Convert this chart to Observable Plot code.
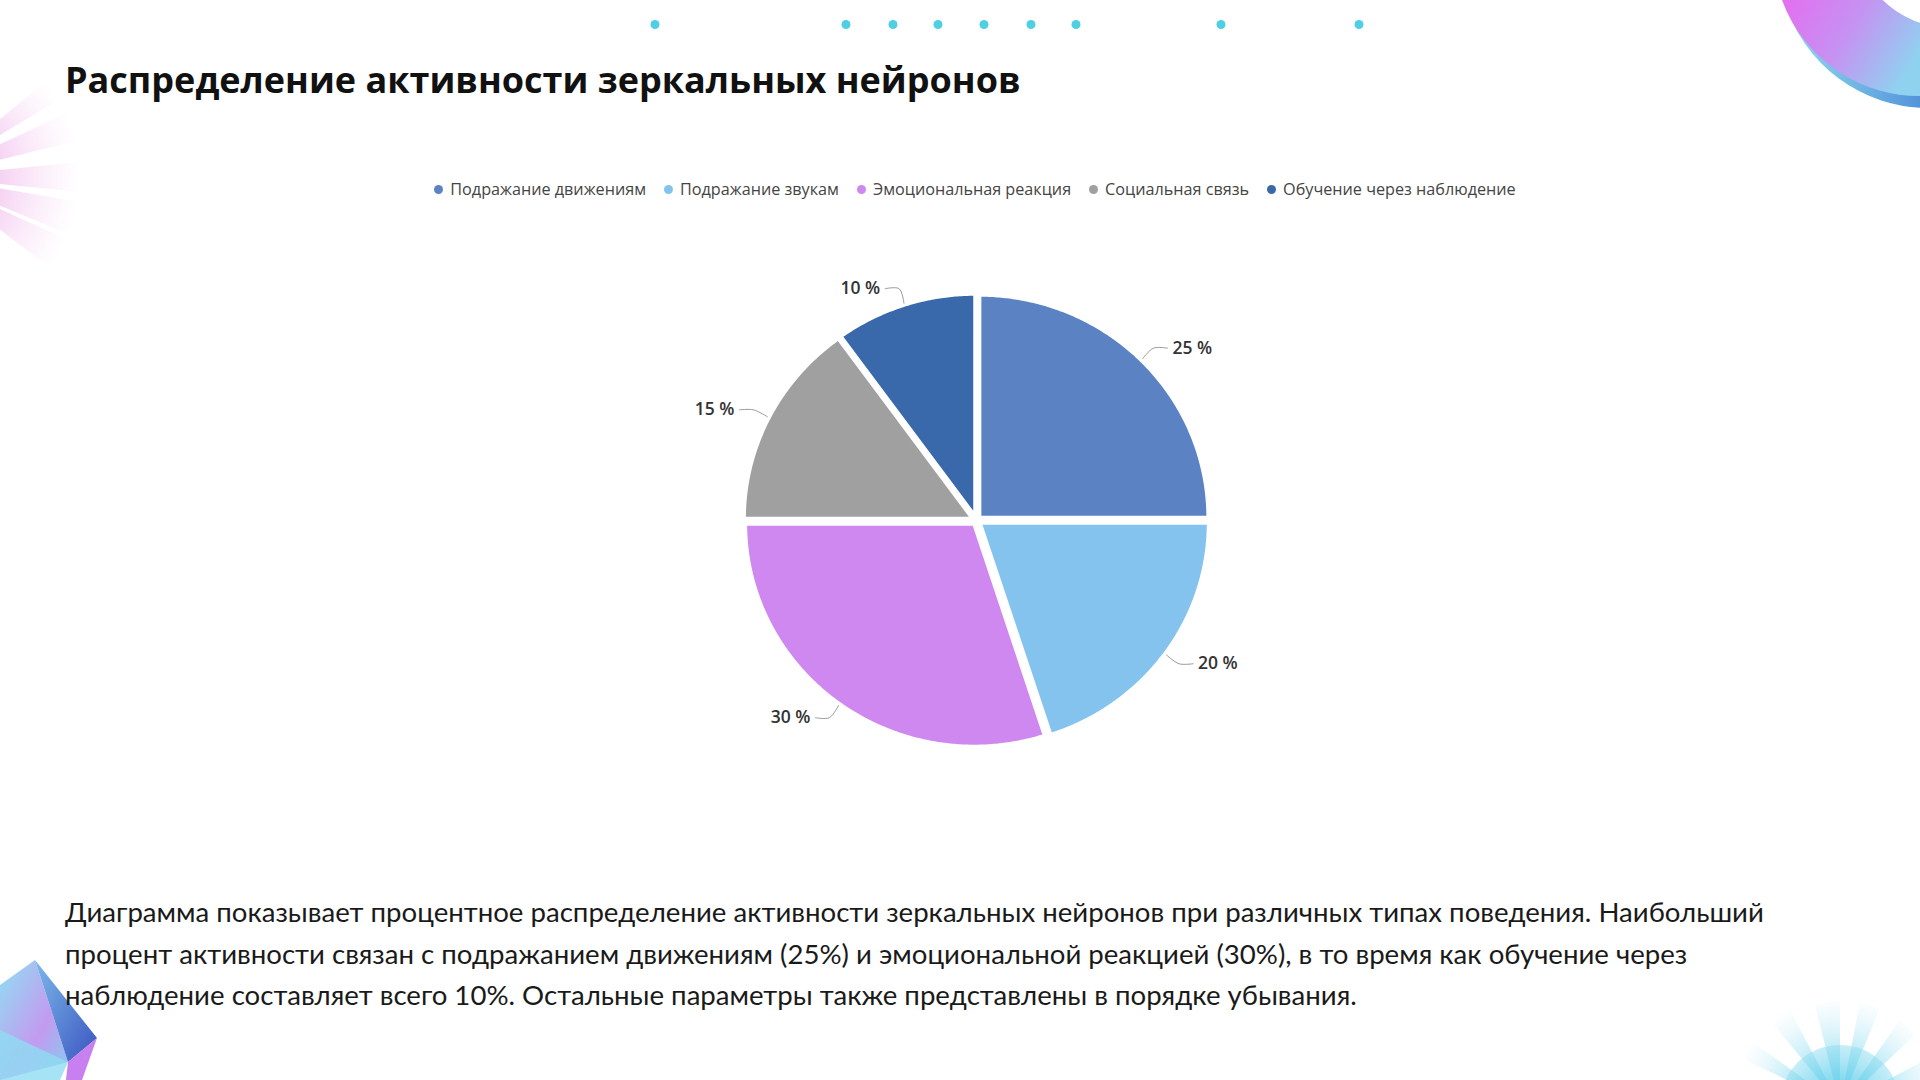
<!DOCTYPE html>
<html><head><meta charset="utf-8">
<script src="https://cdn.jsdelivr.net/npm/d3@7"></script>
<script src="https://cdn.jsdelivr.net/npm/@observablehq/plot@0.6"></script>
<style>
html,body{margin:0;padding:0;background:#fff;}
#page{position:relative;width:1920px;height:1080px;overflow:hidden;background:#fff;}
#deco{position:absolute;left:0;top:0;}
#title{position:absolute;left:65px;top:55px;font-family:"Open Sans",sans-serif;font-weight:700;font-size:36px;color:#111;white-space:nowrap;line-height:50px;}
#legend{position:absolute;top:177px;left:0;width:1950px;display:flex;justify-content:center;gap:18px;font-family:"Open Sans",sans-serif;font-size:16.2px;color:#444;line-height:24px;}
#legend .item{display:flex;align-items:center;white-space:nowrap;}
#legend .dot{width:9px;height:9px;border-radius:50%;margin-right:7px;}
#chart{position:absolute;left:626px;top:220px;}
#body{position:absolute;left:65px;top:891px;font-family:Lato,sans-serif;font-size:27.6px;line-height:41.6px;color:#1a1a1a;}
#body div{white-space:nowrap;}
</style></head>
<body><div id="page">
<svg id="deco" width="1920" height="1080">
  <defs>
    <linearGradient id="ringG" x1="0" y1="0" x2="1" y2="0.4">
      <stop offset="0" stop-color="#e46ef0"/><stop offset="0.5" stop-color="#c592f2"/><stop offset="1" stop-color="#8fd2f0"/>
    </linearGradient>
    <linearGradient id="ringB" x1="0" y1="0" x2="1" y2="0">
      <stop offset="0" stop-color="#8fdcf0"/><stop offset="1" stop-color="#4f8fd8"/>
    </linearGradient>
    <radialGradient id="pinkR" cx="-70" cy="177" r="150" gradientUnits="userSpaceOnUse">
      <stop offset="0.35" stop-color="#eeb0ea" stop-opacity="0.75"/><stop offset="1" stop-color="#f6d0f2" stop-opacity="0"/>
    </radialGradient>
    <radialGradient id="cyanR" cx="1840" cy="1105" r="110" gradientUnits="userSpaceOnUse">
      <stop offset="0.2" stop-color="#6fd3ec" stop-opacity="0.9"/><stop offset="1" stop-color="#bfeaf6" stop-opacity="0"/>
    </radialGradient>
    <linearGradient id="crysA" x1="0" y1="0" x2="1" y2="1">
      <stop offset="0" stop-color="#8fe0f2"/><stop offset="0.6" stop-color="#c39af0"/><stop offset="1" stop-color="#7fd0f0"/>
    </linearGradient>
    <linearGradient id="crysB" x1="0" y1="0" x2="1" y2="1">
      <stop offset="0" stop-color="#7ab8ea"/><stop offset="1" stop-color="#3c55c0"/>
    </linearGradient>
  </defs>
  <path d="M1784,0 A150,150 0 0 0 1930,108 L1930,0 Z" fill="url(#ringB)"/>
  <path d="M1782,0 A146,146 0 0 0 1925,96 L1930,0 Z" fill="url(#ringG)"/>
  <circle cx="1952" cy="-72" r="100" fill="#fff"/>
  <g fill="url(#pinkR)">
    <path d="M-70,177 L90,45 L100,75 Z"/>
    <path d="M-70,177 L95,100 L100,135 Z"/>
    <path d="M-70,177 L100,160 L100,194 Z"/>
    <path d="M-70,177 L100,205 L95,245 Z"/>
    <path d="M-70,177 L90,250 L80,290 Z"/>
  </g>
  <polygon points="0,985 35,960 68,1062 0,1080" fill="url(#crysA)"/>
  <polygon points="35,960 97,1038 68,1062" fill="url(#crysB)"/>
  <polygon points="68,1062 97,1038 82,1080 66,1080" fill="#c87ff0"/>
  <polygon points="0,1030 68,1062 60,1080 0,1080" fill="#8fdcf2" opacity="0.8"/>
  <g fill="url(#cyanR)">
    <path d="M1840,1105 L1745,1060 L1750,1040 Z"/>
    <path d="M1840,1105 L1770,1020 L1790,1010 Z"/>
    <path d="M1840,1105 L1815,1005 L1840,1000 Z"/>
    <path d="M1840,1105 L1860,1002 L1880,1008 Z"/>
    <path d="M1840,1105 L1900,1020 L1915,1035 Z"/>
    <path d="M1840,1105 L1925,1060 L1930,1080 Z"/>
    <circle cx="1840" cy="1105" r="60"/>
  </g>
  <g fill="#4fcfe4">
    <circle cx="655" cy="24.5" r="4.5"/><circle cx="846" cy="24.5" r="4.5"/><circle cx="893" cy="24.5" r="4.5"/>
    <circle cx="938" cy="24.5" r="4.5"/><circle cx="984" cy="24.5" r="4.5"/><circle cx="1031" cy="24.5" r="4.5"/>
    <circle cx="1076" cy="24.5" r="4.5"/><circle cx="1221" cy="24.5" r="4.5"/><circle cx="1359" cy="24.5" r="4.5"/>
  </g>
</svg>
<div id="title">Распределение активности зеркальных нейронов</div>
<div id="legend"></div>
<div id="chart"></div>
<div id="body">
  <div>Диаграмма показывает процентное распределение активности зеркальных нейронов при различных типах поведения. Наибольший</div>
  <div>процент активности связан с подражанием движениям (25%) и эмоциональной реакцией (30%), в то время как обучение через</div>
  <div>наблюдение составляет всего 10%. Остальные параметры также представлены в порядке убывания.</div>
</div>
</div>
<script>
const categories = ["Подражание движениям", "Подражание звукам", "Эмоциональная реакция", "Социальная связь", "Обучение через наблюдение"];
const values = [25, 20, 30, 15, 10];
const colors = ["#5b83c4", "#84c3ee", "#cf88ef", "#a0a0a0", "#3a69ab"];
const valueLabels = values.map(v => v + " %");

const legend = document.getElementById("legend");
categories.forEach((c, i) => {
  const it = document.createElement("div"); it.className = "item";
  const d = document.createElement("span"); d.className = "dot"; d.style.background = colors[i];
  const t = document.createElement("span"); t.textContent = c;
  it.appendChild(d); it.appendChild(t); legend.appendChild(it);
});

// pie geometry in unit-radius coordinates; x and y scales map one unit to RX / RY pixels
const RX = 229, RY = 223, W = 700, H = 600, EXPLODE = 4 / 226;
const total = d3.sum(values);
let acc = 0;
const slices = values.map((v, i) => {
  const a0 = acc / total * 2 * Math.PI; acc += v;
  const a1 = acc / total * 2 * Math.PI;
  return {i, cat: categories[i], v, a0, a1, mid: (a0 + a1) / 2};
});
const polys = slices.map(s => {
  const ox = EXPLODE * Math.sin(s.mid), oy = EXPLODE * Math.cos(s.mid);
  const pts = [{x: ox, y: oy}];
  const n = Math.max(2, Math.ceil((s.a1 - s.a0) / (Math.PI / 360)));
  for (let k = 0; k <= n; k++) {
    const a = s.a0 + (s.a1 - s.a0) * k / n;
    pts.push({x: ox + Math.sin(a), y: oy + Math.cos(a)});
  }
  return pts;
});
const leaders = [], labR = [], labL = [];
slices.forEach(s => {
  const sx = Math.sin(s.mid), sy = Math.cos(s.mid);
  const side = sx >= 0 ? 1 : -1;
  const A = {x: sx * 1.025, y: sy * 1.025};
  const B = {x: sx * 1.093, y: sy * 1.093};
  const C = {x: B.x + side * 14 / RX, y: B.y};
  leaders.push({i: s.i, ...A}, {i: s.i, ...B}, {i: s.i, ...C});
  const lab = {x: C.x + side * 5 / RX, y: C.y, t: valueLabels[s.i]};
  (side > 0 ? labR : labL).push(lab);
});

const marks = slices.map((s, i) => Plot.line(polys[i], {
  x: "x", y: "y", fill: colors[i], stroke: "#fff", strokeWidth: 4,
  strokeLinejoin: "round", curve: "linear-closed"
}));
marks.push(Plot.line(leaders, {x: "x", y: "y", z: "i", stroke: "#9a9a9a", strokeWidth: 1, curve: "catmull-rom"}));
const textOpts = {x: "x", y: "y", text: "t", fontSize: 17.5, fontWeight: 600, fill: "#333"};
marks.push(Plot.text(labR, {...textOpts, textAnchor: "start"}));
marks.push(Plot.text(labL, {...textOpts, textAnchor: "end"}));

const plot = Plot.plot({
  width: W, height: H, margin: 0,
  x: {domain: [-W / 2 / RX, W / 2 / RX], axis: null},
  y: {domain: [-H / 2 / RY, H / 2 / RY], axis: null},
  style: {background: "transparent", fontFamily: "'Open Sans', sans-serif", overflow: "visible"},
  marks
});
document.getElementById("chart").appendChild(plot);
</script>
</body></html>
